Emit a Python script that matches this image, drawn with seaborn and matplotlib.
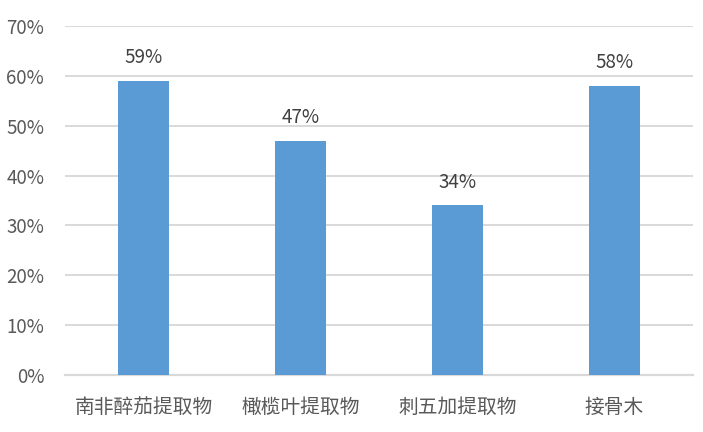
import matplotlib
matplotlib.use("Agg")
import matplotlib.pyplot as plt
import seaborn as sns
import pandas as pd

categories = ["南非醉茄提取物", "橄榄叶提取物", "刺五加提取物", "接骨木"]
values = [59, 47, 34, 58]
yticks = [0, 10, 20, 30, 40, 50, 60, 70]
ytick_labels = [f"{v}%" for v in yticks]

sns.set_theme(style="white")
plt.rcParams['font.family'] = ['Noto Sans CJK SC', 'DejaVu Sans']

df = pd.DataFrame({"cat": categories, "val": values})

fig = plt.figure(figsize=(7.03, 4.32), dpi=100)
ax = fig.add_axes([65/703, 1-375/432, 628/703, 349/432])

sns.barplot(data=df, x="cat", y="val", color="#5B9BD5", saturation=1,
            width=0.32, linewidth=0, ax=ax, zorder=3)

ax.set_ylim(0, 70)
ax.set_xlim(-0.5, 3.5)
ax.set_yticks(yticks)
ax.set_yticklabels(ytick_labels)
ax.yaxis.grid(True, color="#D9D9D9", linewidth=1.4, zorder=0)
ax.set_axisbelow(True)
for s in ["top", "right", "left"]:
    ax.spines[s].set_visible(False)
ax.spines["bottom"].set_color("#D9D9D9")
ax.spines["bottom"].set_linewidth(1.6)
ax.set_xlabel("")
ax.set_ylabel("")
ax.tick_params(axis="y", length=0, pad=15, labelsize=13.5, labelcolor="#595959")
ax.tick_params(axis="x", length=0, pad=16, labelsize=14.2, labelcolor="#595959")

for i, v in enumerate(values):
    ax.annotate(f"{v}%", xy=(i, v), xytext=(0, 9), textcoords="offset points",
                ha="center", va="bottom", fontsize=13.5, color="#404040")

fig.savefig("out.png", dpi=100)
